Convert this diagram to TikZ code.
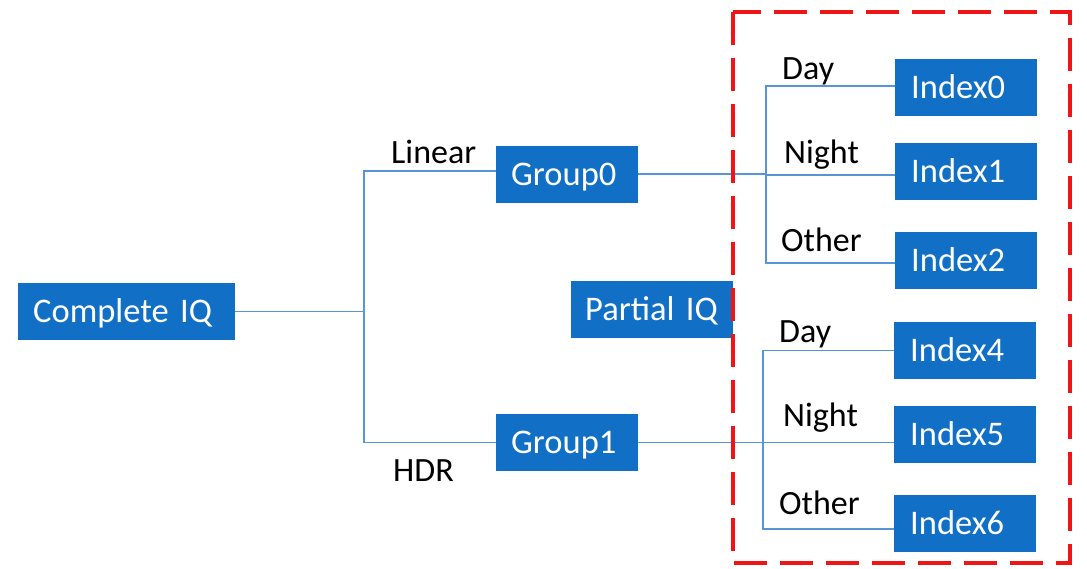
\documentclass[tikz,border=0pt]{standalone}
\usepackage{fontspec}
\setmainfont{Carlito}[WordSpace=0.75]
\usetikzlibrary{calc}
\definecolor{boxblue}{RGB}{17,112,198}
\definecolor{linkblue}{RGB}{86,150,216}
\definecolor{dashred}{RGB}{240,20,20}
\begin{document}
\begin{tikzpicture}[x=1pt,y=-1pt,
  box/.style={fill=boxblue,text=white,anchor=west,minimum height=57pt,
    inner xsep=15pt,inner ysep=0pt,align=left,
    font=\fontsize{34.5}{40}\selectfont,text height=22.2pt,text depth=0pt},
  lbl/.style={anchor=base west,inner sep=0pt,font=\fontsize{34}{40}\selectfont},
  conn/.style={draw=linkblue,line width=1.4pt},
  zone/.style={draw=dashred,line width=3.6pt,dash pattern=on 33pt off 13pt}]
\useasboundingbox (0,0) rectangle (1087,568);
% boxes
\node[box,minimum width=217pt,text width=187pt] (ciq) at (18,311.5) {Complete IQ};
\node[box,minimum width=142pt,text width=112pt] (g0) at (496,174) {Group0};
\node[box,minimum width=142pt,text width=112pt] (g1) at (496,442.5) {Group1};
\node[box,minimum width=162pt,text width=134pt,inner xsep=14pt] (piq) at (571,309) {Partial IQ};
\node[box,minimum width=142pt,text width=110pt,inner xsep=16pt] (i0) at (895,87.5) {Index0};
\node[box,minimum width=142pt,text width=110pt,inner xsep=16pt] (i1) at (895,171.5) {Index1};
\node[box,minimum width=142pt,text width=110pt,inner xsep=16pt] (i2) at (895,260.5) {Index2};
\node[box,minimum width=142pt,text width=110pt,inner xsep=16pt] (i4) at (894,350.5) {Index4};
\node[box,minimum width=142pt,text width=110pt,inner xsep=16pt] (i5) at (894,434.5) {Index5};
\node[box,minimum width=142pt,text width=110pt,inner xsep=16pt] (i6) at (894,523.5) {Index6};
% connectors
\coordinate (j0) at (364,311.5);
\draw[conn] (ciq.east) -- (j0);
\draw[conn] (j0) |- ($(g0.west)+(0,-3)$);
\draw[conn] (j0) |- (g1.west);
\coordinate (j1) at (766,174);
\draw[conn] (g0.east) -- (g0.east -| j1);
\draw[conn] (j1) -- ++(0,1) -- ($(i1.west)+(0,3.5)$);
\draw[conn] (j1) |- ($(i0.west)+(0,-1.5)$);
\draw[conn] (j1) |- ($(i2.west)+(0,2.5)$);
\coordinate (j2) at (763,442.5);
\draw[conn] (g1.east) -- (g1.east -| j2);
\draw[conn] (j2) -- (j2 -| i5.west);
\draw[conn] (j2) |- (i4.west);
\draw[conn] (j2) |- ($(i6.west)+(0,5.5)$);
% labels
\node[lbl] (lin) at (391,163) {Linear};
\node[lbl] (hdr) at (393,481) {HDR};
\node[lbl] (d0) at (782,79) {Day};
\node[lbl] (n0) at (784,163) {Night};
\node[lbl] (o0) at (781,251) {Other};
\node[lbl] (d1) at (779,342) {Day};
\node[lbl] (n1) at (783,426) {Night};
\node[lbl] (o1) at (779,514) {Other};
% dashed zone
\draw[zone] (733,12) rectangle (1070,563);
\end{tikzpicture}
\end{document}
